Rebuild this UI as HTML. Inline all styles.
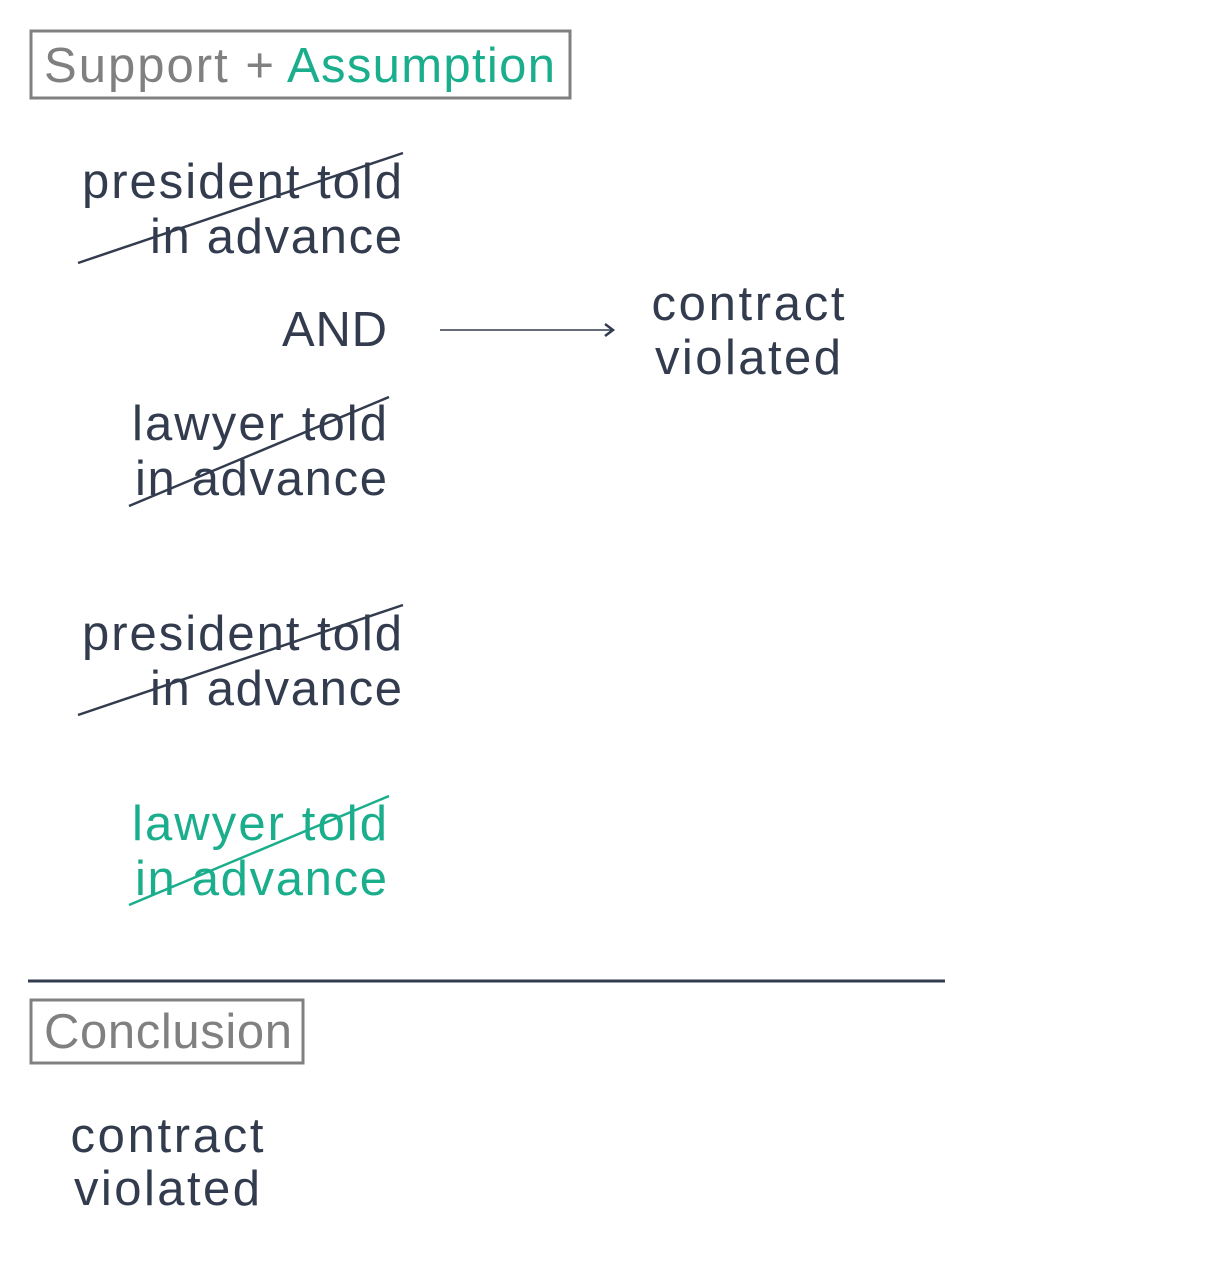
<!DOCTYPE html>
<html><head><meta charset="utf-8"><style>
html,body{margin:0;padding:0;background:#fff;}
svg{display:block;}
text{font-family:"Liberation Sans",sans-serif;font-size:49px;}
</style></head><body>
<svg width="1230" height="1270" viewBox="0 0 1230 1270" xmlns="http://www.w3.org/2000/svg">
<defs><marker id="ah" markerWidth="12" markerHeight="14" refX="10" refY="7" orient="auto" markerUnits="userSpaceOnUse"><path d="M2,1 L10,7 L2,13" fill="none" stroke="#333c4e" stroke-width="2.5"/></marker></defs>
<rect x="31" y="31" width="539" height="67" fill="none" stroke="#808080" stroke-width="3"/>
<text x="44" y="82" fill="#808080" textLength="230">Support +</text>
<text x="287" y="82" fill="#1aae8c" textLength="268">Assumption</text>

<g fill="#333c4e">
<text x="402" y="198" text-anchor="end" textLength="320">president told</text>
<text x="402" y="253" text-anchor="end" textLength="252">in advance</text>
<text x="387" y="346" text-anchor="end" textLength="105">AND</text>
<text x="387" y="440" text-anchor="end" textLength="255">lawyer told</text>
<text x="387" y="495" text-anchor="end" textLength="252">in advance</text>
<text x="748" y="320" text-anchor="middle" textLength="193">contract</text>
<text x="748" y="374" text-anchor="middle" textLength="186">violated</text>
<text x="402" y="650" text-anchor="end" textLength="320">president told</text>
<text x="402" y="705" text-anchor="end" textLength="252">in advance</text>
<text x="167" y="1152" text-anchor="middle" textLength="193">contract</text>
<text x="167" y="1205" text-anchor="middle" textLength="186">violated</text>
</g>
<g fill="#1aae8c">
<text x="387" y="840" text-anchor="end" textLength="255">lawyer told</text>
<text x="387" y="895" text-anchor="end" textLength="252">in advance</text>
</g>
<g stroke="#333c4e" stroke-width="2.5">
<line x1="78" y1="263" x2="403" y2="153"/>
<line x1="129" y1="506" x2="389" y2="397"/>
<line x1="78" y1="715" x2="403" y2="605"/>
</g>
<line x1="129" y1="905" x2="389" y2="796" stroke="#1aae8c" stroke-width="2.5"/>
<line x1="440" y1="330" x2="613" y2="330" stroke="#333c4e" stroke-width="1.5" marker-end="url(#ah)"/>
<line x1="28" y1="981" x2="945" y2="981" stroke="#333c4e" stroke-width="3"/>
<rect x="31" y="1000" width="272" height="63" fill="none" stroke="#808080" stroke-width="3"/>
<text x="44" y="1048" fill="#808080" textLength="248">Conclusion</text>
</svg>
</body></html>
